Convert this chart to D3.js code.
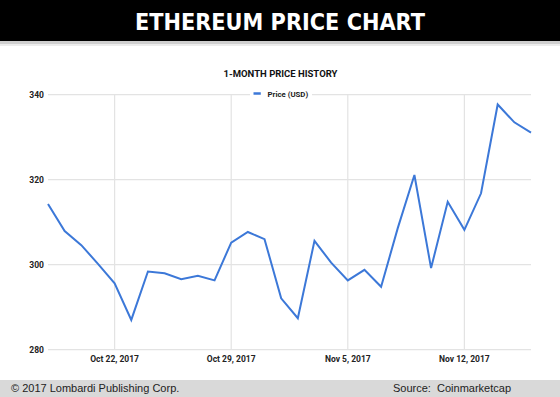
<!DOCTYPE html>
<html>
<head>
<meta charset="utf-8">
<script src="https://cdn.jsdelivr.net/npm/d3@7"></script>
<style>
  body { margin: 0; background: #fff; }
  svg { display: block; }
</style>
</head>
<body>
<svg id="svg" width="560" height="397"></svg>
<script>
// daily closing price, Oct 18 - Nov 16 2017
var dates = ["2017-10-18", "2017-10-19", "2017-10-20", "2017-10-21", "2017-10-22",
    "2017-10-23", "2017-10-24", "2017-10-25", "2017-10-26", "2017-10-27",
    "2017-10-28", "2017-10-29", "2017-10-30", "2017-10-31", "2017-11-01",
    "2017-11-02", "2017-11-03", "2017-11-04", "2017-11-05", "2017-11-06",
    "2017-11-07", "2017-11-08", "2017-11-09", "2017-11-10", "2017-11-11",
    "2017-11-12", "2017-11-13", "2017-11-14", "2017-11-15", "2017-11-16"];
var prices = [314.3, 307.9, 304.6, 300.2, 295.6,
    287.0, 298.4, 298.0, 296.6, 297.4,
    296.3, 305.2, 307.7, 306.0, 292.1,
    287.4, 305.6, 300.5, 296.3, 298.8,
    294.8, 308.6, 321.1, 299.2, 314.8,
    308.2, 316.8, 337.7, 333.5, 331.1];
var yTicks = [280, 300, 320, 340];
var xTicks = ["2017-10-22", "2017-10-29", "2017-11-05", "2017-11-12"];

var parse = d3.timeParse("%Y-%m-%d");
var fmt = d3.timeFormat("%b %-d, %Y");
var data = dates.map((d, i) => ({date: parse(d), price: prices[i]}));

var svg = d3.select("#svg");

// header bar
svg.append("rect").attr("x", 0).attr("y", 0).attr("width", 560).attr("height", 41).attr("fill", "#000");
svg.append("rect").attr("x", 0).attr("y", 41).attr("width", 560).attr("height", 3).attr("fill", "#cfcfcf");
svg.append("rect").attr("x", 0).attr("y", 44).attr("width", 560).attr("height", 2).attr("fill", "#ececec");
svg.append("text")
    .attr("x", 280).attr("y", 29.5)
    .attr("text-anchor", "middle")
    .attr("font-family", "DejaVu Sans")
    .attr("font-weight", "bold")
    .attr("font-size", 23)
    .attr("textLength", 290)
    .attr("lengthAdjust", "spacingAndGlyphs")
    .attr("fill", "#fff")
    .text("ETHEREUM PRICE CHART");

var x = d3.scaleTime()
    .domain(d3.extent(data, d => d.date))
    .range([48, 531]);
var y = d3.scaleLinear()
    .domain([280, 340])
    .range([349.7, 94.7]);

var grid = svg.append("g");
grid.selectAll(".hg").data(yTicks).enter().append("line")
    .attr("x1", 48).attr("x2", 531)
    .attr("y1", d => y(d)).attr("y2", d => y(d))
    .attr("stroke", "#e3e3e3").attr("stroke-width", 1.2);
grid.selectAll(".vg").data(xTicks).enter().append("line")
    .attr("x1", d => x(parse(d))).attr("x2", d => x(parse(d)))
    .attr("y1", y(340)).attr("y2", y(280))
    .attr("stroke", "#e3e3e3").attr("stroke-width", 1.2);

// y labels
svg.append("g").selectAll("text").data(yTicks).enter().append("text")
    .attr("x", 44).attr("y", d => y(d) + 3)
    .attr("text-anchor", "end")
    .attr("font-family", "Roboto").attr("font-weight", "bold")
    .attr("font-size", 8.5).attr("fill", "#222")
    .text(d => d);

// x labels
svg.append("g").selectAll("text").data(xTicks).enter().append("text")
    .attr("x", d => x(parse(d))).attr("y", 361.5)
    .attr("text-anchor", "middle")
    .attr("font-family", "Roboto").attr("font-weight", "bold")
    .attr("font-size", 8.5).attr("fill", "#222")
    .text(d => fmt(parse(d)));

// chart title
svg.append("text")
    .attr("x", 280.5).attr("y", 76.8)
    .attr("text-anchor", "middle")
    .attr("font-family", "Roboto").attr("font-weight", "bold")
    .attr("font-size", 9.5).attr("fill", "#111")
    .text("1-MONTH PRICE HISTORY");

// legend
svg.append("rect").attr("x", 250).attr("y", 89).attr("width", 62).attr("height", 11).attr("fill", "#fff");
svg.append("line")
    .attr("x1", 253.5).attr("x2", 260.8).attr("y1", 93.5).attr("y2", 93.5)
    .attr("stroke", "#3c78d8").attr("stroke-width", 2.5);
svg.append("text")
    .attr("x", 267.5).attr("y", 96.5)
    .attr("font-family", "Roboto").attr("font-weight", "bold")
    .attr("font-size", 7.8).attr("fill", "#222")
    .text("Price (USD)");

// the line
var line = d3.line()
    .x(d => x(d.date))
    .y(d => y(d.price));
svg.append("path")
    .datum(data)
    .attr("d", line)
    .attr("fill", "none")
    .attr("stroke", "#3c78d8")
    .attr("stroke-width", 2)
    .attr("stroke-linejoin", "miter");

// footer
svg.append("rect").attr("x", 0).attr("y", 380).attr("width", 560).attr("height", 17).attr("fill", "#d9d9d9");
svg.append("text")
    .attr("x", 11).attr("y", 391.5)
    .attr("font-family", "Liberation Sans")
    .attr("font-size", 11).attr("fill", "#222")
    .text("\u00a9 2017 Lombardi Publishing Corp.");
svg.append("text")
    .attr("x", 511).attr("y", 391.5)
    .attr("text-anchor", "end")
    .attr("font-family", "Liberation Sans")
    .attr("font-size", 11).attr("fill", "#222")
    .attr("xml:space", "preserve")
    .text("Source:  Coinmarketcap");
</script>
</body>
</html>
